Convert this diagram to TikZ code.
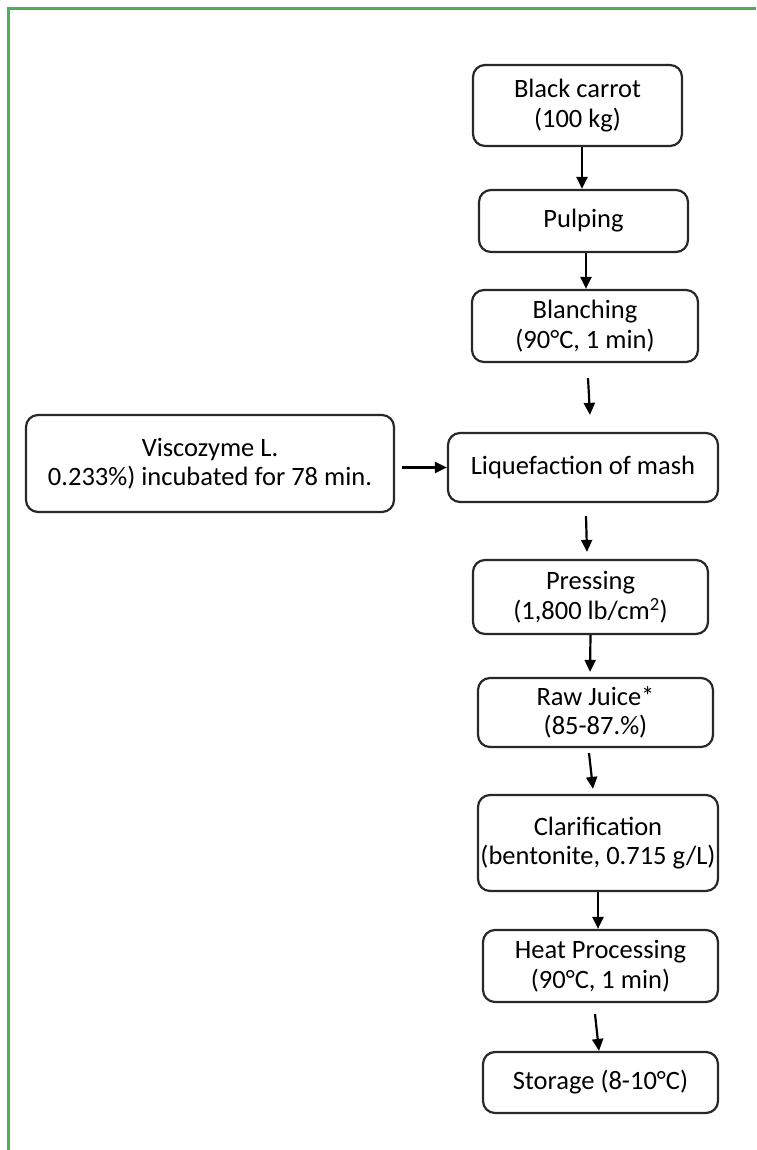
\documentclass[tikz,border=0pt]{standalone}
\usepackage{fontspec}
\setmainfont{Carlito}
\usetikzlibrary{arrows.meta}
\definecolor{framegreen}{RGB}{76,175,80}
\definecolor{boxline}{RGB}{40,40,40}
\tikzset{
  stepbox/.style={draw=boxline, line width=2.2pt, rounded corners=12pt, fill=white,
    inner sep=0pt, align=center, font=\fontsize{26.5}{29.5}\selectfont, text=black},
  arr/.style={draw=black, line width=2.2pt, -{Triangle[length=12pt,width=11pt]}},
  frame/.style={draw=framegreen, line width=3.5pt}
}
\begin{document}
\begin{tikzpicture}[x=1pt,y=-1pt]
\useasboundingbox (0,0) rectangle (756,1150);
% green frame
\draw[frame] (8.5,1150) -- (8.5,8.5) -- (756,8.5);

\node[stepbox, minimum width=209pt, minimum height=81pt] (carrot) at (577.5,105.5) {Black carrot\\(100 kg)};
\node[stepbox, minimum width=209pt, minimum height=62pt] (pulp) at (583.5,221) {Pulping};
\node[stepbox, minimum width=226pt, minimum height=72pt] (blanch) at (585,326) {Blanching\\(90°C, 1 min)};
\node[stepbox, minimum width=368pt, minimum height=97pt] (visc) at (210,463.5) {Viscozyme L.\\0.233\%) incubated for 78 min.};
\node[stepbox, minimum width=270pt, minimum height=69pt] (liq) at (583,467.5) {Liquefaction of mash};
\node[stepbox, minimum width=235pt, minimum height=74pt] (press) at (590.5,597) {Pressing\\(1,800 lb/cm\textsuperscript{2})};
\node[stepbox, minimum width=235pt, minimum height=69pt] (raw) at (595.5,712.5) {Raw Juice*\\(85-87.\%)};
\node[stepbox, minimum width=240pt, minimum height=96pt] (clar) at (598,843) {Clarification\\(bentonite, 0.715 g/L)};
\node[stepbox, minimum width=235pt, minimum height=72pt] (heat) at (600.5,966) {Heat Processing\\(90°C, 1 min)};
\node[stepbox, minimum width=235pt, minimum height=61pt] (stor) at (600.5,1082.5) {Storage (8-10°C)};

\draw[arr] ([xshift=4.5pt]carrot.south) -- ([xshift=-1.5pt]pulp.north);
\draw[arr] ([xshift=2.5pt]pulp.south) -- ([xshift=1pt]blanch.north);
\draw[arr] ([xshift=3pt,yshift=-15pt]blanch.south) -- ([xshift=7pt,yshift=17pt]liq.north);
\draw[arr] ([xshift=7pt]visc.east |- liq.west) -- (liq.west);
\draw[arr] ([xshift=3pt,yshift=-13pt]liq.south) -- ([xshift=-3.5pt,yshift=7pt]press.north);
\draw[arr] (press.south) -- ([xshift=-5.5pt,yshift=5pt]raw.north);
\draw[arr] ([xshift=-6.5pt,yshift=-5pt]raw.south) -- ([xshift=-5pt,yshift=5pt]clar.north);
\draw[arr] (clar.south) -- ([xshift=-2.5pt]heat.north);
\draw[arr] ([xshift=-5.5pt,yshift=-11pt]heat.south) -- ([xshift=-1.5pt]stor.north);
\end{tikzpicture}
\end{document}
